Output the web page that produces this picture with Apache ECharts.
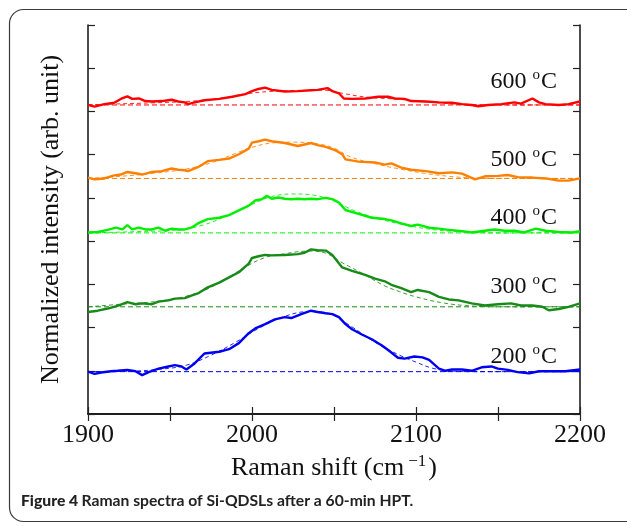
<!DOCTYPE html>
<html>
<head>
<meta charset="utf-8">
<script src="https://cdn.jsdelivr.net/npm/echarts@6/dist/echarts.min.js"></script>
<style>
  html, body { margin: 0; padding: 0; background: #fff; }
  #chart { width: 627px; height: 526px; }
</style>
</head>
<body>
<div id="chart"></div>
<script>
// temperatures, colours and vertical offsets of each spectrum (axis units)
const temps = ['600', '500', '400', '300', '200'];
const colors = ['#ff0000', '#ff8000', '#00ee00', '#178a17', '#0000f0'];
const offsets = [7.15, 5.45, 4.19, 2.48, 0.98];
const xTicks = [1900, 2000, 2100, 2200];

// measured spectra: [Raman shift, intensity above own baseline]
const raw600 = [[1900,0],[1904,-0.04],[1910,0.02],[1916,0.05],[1920,0.14],[1924,0.20],[1927,0.14],[1931,0.15],[1935,0.09],[1939,0.08],[1945,0.09],[1951,0.12],[1955,0.08],[1959,0.06],[1961,0.02],[1965,0.06],[1971,0.11],[1980,0.14],[1988,0.19],[1996,0.25],[2000,0.32],[2004,0.37],[2008,0.40],[2012,0.35],[2020,0.31],[2028,0.32],[2036,0.34],[2040,0.35],[2046,0.39],[2049,0.32],[2053,0.27],[2056,0.15],[2061,0.14],[2069,0.15],[2077,0.19],[2083,0.19],[2087,0.15],[2093,0.14],[2097,0.09],[2106,0.08],[2114,0.06],[2122,0.05],[2128,0.02],[2134,0],[2138,-0.03],[2144,0],[2152,0.02],[2160,0.06],[2164,0.03],[2171,0.15],[2175,0.06],[2179,0.02],[2187,0],[2193,0.02],[2200,0.08]];
const raw500 = [[1900,0.02],[1904,-0.02],[1910,0],[1916,0.07],[1920,0.09],[1924,0.15],[1929,0.12],[1933,0.09],[1939,0.15],[1945,0.17],[1951,0.23],[1955,0.20],[1959,0.19],[1961,0.17],[1967,0.26],[1973,0.40],[1980,0.43],[1986,0.46],[1992,0.56],[1998,0.69],[2000,0.83],[2004,0.86],[2008,0.90],[2012,0.86],[2020,0.82],[2028,0.75],[2036,0.82],[2040,0.77],[2045,0.73],[2051,0.65],[2055,0.56],[2057,0.44],[2065,0.39],[2075,0.37],[2081,0.32],[2085,0.35],[2091,0.25],[2097,0.20],[2106,0.17],[2114,0.12],[2122,0.14],[2128,0.11],[2136,-0.02],[2142,0.05],[2150,0.06],[2156,0.08],[2162,0.03],[2171,0.02],[2179,0],[2187,-0.05],[2193,-0.05],[2200,0]];
const raw400 = [[1900,0.01],[1906,0.02],[1912,0.07],[1917,0.12],[1921,0.08],[1924,0.18],[1927,0.08],[1931,0.12],[1935,0.08],[1939,0.08],[1943,0.12],[1947,0.05],[1951,0.10],[1955,0.08],[1959,0.08],[1963,0.12],[1967,0.22],[1973,0.32],[1980,0.35],[1986,0.41],[1992,0.52],[1998,0.63],[2002,0.75],[2006,0.78],[2009,0.86],[2012,0.79],[2016,0.82],[2020,0.79],[2024,0.78],[2028,0.79],[2032,0.78],[2036,0.79],[2040,0.78],[2045,0.81],[2049,0.78],[2053,0.70],[2057,0.53],[2065,0.44],[2073,0.35],[2081,0.32],[2085,0.29],[2091,0.22],[2097,0.16],[2101,0.19],[2108,0.12],[2114,0.10],[2120,0.07],[2128,0.04],[2134,0.01],[2142,0.05],[2148,0.08],[2154,0.05],[2160,0.05],[2166,0.01],[2173,0.10],[2179,0.05],[2187,0.02],[2195,0.01],[2200,0.04]];
const raw300 = [[1900,-0.12],[1906,-0.09],[1912,-0.04],[1918,0.02],[1924,0.11],[1929,0.06],[1933,0.08],[1939,0.06],[1943,0.12],[1949,0.15],[1953,0.19],[1959,0.20],[1963,0.26],[1967,0.31],[1973,0.45],[1980,0.56],[1986,0.68],[1992,0.80],[1998,1.00],[2000,1.13],[2004,1.17],[2008,1.20],[2012,1.19],[2020,1.20],[2028,1.22],[2032,1.25],[2036,1.33],[2040,1.31],[2045,1.30],[2049,1.20],[2055,0.91],[2061,0.83],[2069,0.74],[2075,0.65],[2081,0.59],[2085,0.51],[2091,0.43],[2097,0.34],[2101,0.39],[2108,0.34],[2114,0.23],[2120,0.17],[2126,0.15],[2134,0.08],[2142,0.03],[2150,0.06],[2158,0.08],[2164,0.03],[2171,0.03],[2177,0],[2181,-0.08],[2187,-0.05],[2193,0],[2200,0.08]];
const raw200 = [[1900,0],[1904,-0.05],[1908,-0.02],[1914,0.01],[1918,0.02],[1924,0.04],[1929,0.01],[1933,-0.08],[1937,-0.01],[1943,0.07],[1949,0.12],[1953,0.15],[1957,0.12],[1960,0.05],[1965,0.19],[1971,0.42],[1980,0.46],[1986,0.52],[1992,0.66],[1998,0.89],[2002,1.00],[2008,1.10],[2014,1.21],[2020,1.26],[2024,1.24],[2030,1.33],[2036,1.41],[2040,1.38],[2045,1.35],[2049,1.33],[2053,1.26],[2057,1.10],[2061,0.98],[2067,0.86],[2073,0.75],[2079,0.61],[2083,0.50],[2089,0.32],[2093,0.30],[2099,0.35],[2104,0.33],[2108,0.27],[2114,0.07],[2118,0.02],[2122,0.05],[2128,0.05],[2134,0.02],[2140,0.10],[2146,0.12],[2150,0.07],[2156,0.04],[2162,-0.01],[2169,-0.04],[2175,0.01],[2183,0.01],[2191,0.01],[2200,0.05]];

// fitted curves (dashed)
const fit600 = [[1900,0],[1915,0.02],[1940,0.05],[1960,0.08],[1980,0.15],[1995,0.25],[2010,0.31],[2025,0.33],[2045,0.34],[2055,0.27],[2070,0.18],[2090,0.13],[2110,0.06],[2130,0.01],[2150,0],[2200,0]];
const fit500 = [[1900,0],[1920,0.05],[1940,0.12],[1960,0.22],[1975,0.36],[1990,0.58],[2000,0.72],[2012,0.82],[2025,0.84],[2040,0.80],[2050,0.70],[2060,0.50],[2075,0.34],[2090,0.22],[2105,0.12],[2120,0.05],[2135,0.01],[2150,0],[2200,0]];
const fit400 = [[1900,0],[1930,0.03],[1955,0.07],[1970,0.18],[1985,0.40],[2000,0.66],[2012,0.84],[2025,0.90],[2038,0.87],[2050,0.74],[2062,0.52],[2078,0.32],[2095,0.17],[2112,0.07],[2130,0.02],[2150,0],[2200,0]];
const fit300 = [[1900,0],[1920,0.06],[1945,0.14],[1965,0.30],[1980,0.55],[1995,0.90],[2008,1.14],[2020,1.23],[2035,1.29],[2045,1.24],[2055,1.02],[2068,0.76],[2080,0.50],[2090,0.35],[2100,0.23],[2115,0.10],[2130,0.03],[2150,0],[2200,0]];
const fit200 = [[1900,0],[1925,0.01],[1945,0.06],[1960,0.15],[1975,0.38],[1990,0.68],[2005,1.02],[2020,1.28],[2035,1.39],[2048,1.33],[2060,1.06],[2075,0.68],[2090,0.38],[2100,0.22],[2110,0.08],[2120,0.02],[2135,0],[2200,0]];

const raws = [raw600, raw500, raw400, raw300, raw200];
const fits = [fit600, fit500, fit400, fit300, fit200];

const serif = 'Liberation Serif';
const shift = (arr, off) => arr.map(p => [p[0], p[1] + off]);

var series = [];
for (var i = 0; i < temps.length; i++) {
  series.push({
    type: 'line', data: [[1900, offsets[i]], [2200, offsets[i]]],
    showSymbol: false, silent: true, z: 2,
    lineStyle: { color: colors[i], width: 1, type: [5, 3] }
  });
  series.push({
    type: 'line', data: shift(raws[i], offsets[i]),
    showSymbol: false, silent: true, z: 3,
    lineStyle: { color: colors[i], width: 2.4 }
  });
  series.push({
    type: 'line', data: shift(fits[i], offsets[i]), smooth: 0.4,
    showSymbol: false, silent: true, z: 4,
    lineStyle: { color: colors[i], width: 1, type: [4, 3], opacity: 0.85 }
  });
}

// superscript "o" is raised with bottom padding
const labelY = [82, 160, 218, 287, 357];
var labels = temps.map((t, i) => ({
  type: 'text', x: 557, y: labelY[i],
  style: {
    text: '{n|' + t + ' }{s|o}{n|C}',
    align: 'right', verticalAlign: 'middle',
    rich: {
      n: { fontFamily: serif, fontSize: 24, fill: '#111' },
      s: { fontFamily: serif, fontSize: 15, fill: '#111', padding: [0, 1, 13, 0] }
    }
  }
}));

const axisLine = { show: true, lineStyle: { color: '#111', width: 1.5 } };
const tick = { show: true, inside: true, length: 7, lineStyle: { color: '#222', width: 1.2 } };

var chart = echarts.init(document.getElementById('chart'), null, { renderer: 'canvas' });
chart.setOption({
  animation: false,
  backgroundColor: '#fff',
  grid: { left: 88, top: 25, right: 47, bottom: 112, containLabel: false },
  xAxis: [{
    type: 'value', min: 1900, max: 2200, interval: 50, position: 'bottom',
    axisLine: axisLine, axisTick: tick, splitLine: { show: false },
    axisLabel: {
      margin: 8, color: '#111', fontFamily: serif, fontSize: 26,
      formatter: v => (xTicks.indexOf(v) >= 0 ? String(v) : '')
    },
    name: '{a|Raman shift (cm}{s|−1}{a|)}',
    nameLocation: 'middle', nameGap: 38,
    nameTextStyle: {
      rich: {
        a: { fontFamily: serif, fontSize: 26, color: '#111' },
        s: { fontFamily: serif, fontSize: 17, color: '#111', padding: [0, 2, 14, 4] }
      }
    }
  }, {
    type: 'value', min: 1900, max: 2200, interval: 50, position: 'top',
    axisLine: axisLine, axisTick: tick, axisLabel: { show: false }, splitLine: { show: false }
  }],
  yAxis: [{
    type: 'value', min: 0, max: 9, interval: 1, position: 'left',
    axisLine: axisLine, axisTick: tick, axisLabel: { show: false }, splitLine: { show: false },
    name: 'Normalized intensity (arb. unit)', nameLocation: 'middle', nameRotate: 90, nameGap: 24,
    nameTextStyle: { fontFamily: serif, fontSize: 26, color: '#111' }
  }, {
    type: 'value', min: 0, max: 9, interval: 1, position: 'right',
    axisLine: axisLine, axisTick: tick, axisLabel: { show: false }, splitLine: { show: false }
  }],
  series: series,
  graphic: [{
    type: 'rect', z: -10,
    shape: { x: 9.5, y: 9.5, width: 660, height: 512, r: 14 },
    style: { fill: 'none', stroke: '#3a3a3a', lineWidth: 1.2 }
  }, {
    type: 'text', x: 21, y: 501,
    style: {
      text: '{b|Figure 4} {r|Raman spectra of Si-QDSLs after a 60-min HPT.}',
      verticalAlign: 'middle',
      rich: {
        b: { fontFamily: 'Lato', fontWeight: 900, fontSize: 15.7, fill: '#222' },
        r: { fontFamily: 'Lato', fontWeight: 700, fontSize: 15.7, fill: '#222' }
      }
    }
  }].concat(labels)
});
</script>
</body>
</html>
